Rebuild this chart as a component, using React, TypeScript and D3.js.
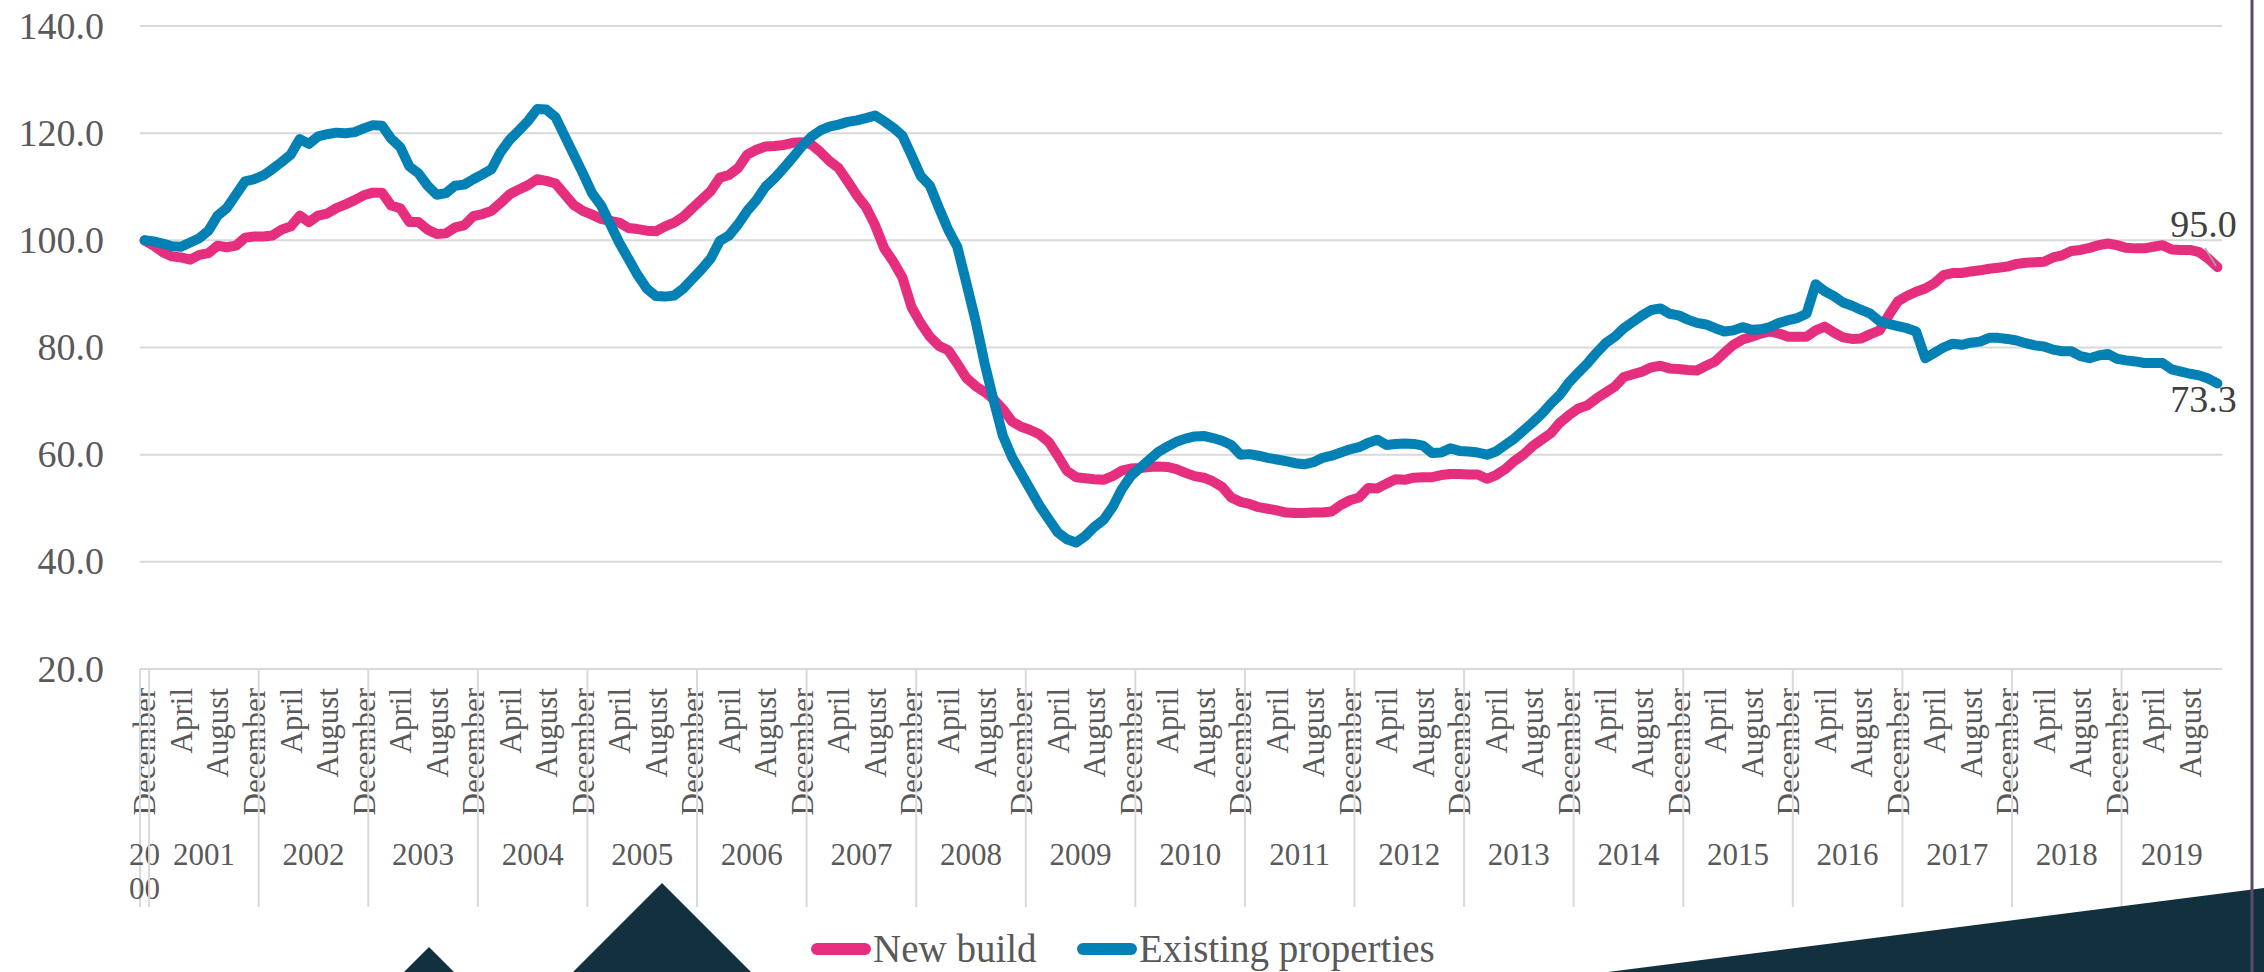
import React from 'react';
import * as d3 from 'd3';

// New build price index, monthly from December 2000 to November 2019
const newBuild = [
  100.0,
  99.0, 97.8, 97.0, 96.8, 96.4, 97.3, 97.6, 99.0, 98.7, 99.0, 100.5, 100.7,
  100.7, 100.9, 102.0, 102.6, 104.6, 103.4, 104.6, 105.0, 106.0, 106.7, 107.5, 108.4,
  108.9, 108.9, 106.5, 106.0, 103.4, 103.4, 102.0, 101.2, 101.3, 102.4, 102.8, 104.5,
  104.9, 105.5, 107.0, 108.6, 109.5, 110.3, 111.4, 111.1, 110.6, 108.6, 106.6, 105.5,
  104.8, 104.0, 103.6, 103.3, 102.3, 102.1, 101.8, 101.7, 102.6, 103.3, 104.4, 106.0,
  107.6, 109.2, 111.7, 112.2, 113.5, 116.0, 116.9, 117.5, 117.6, 117.8, 118.2, 118.3,
  117.9, 116.5, 114.8, 113.5, 111.0, 108.4, 106.2, 102.8, 98.5, 96.0, 93.0, 87.5,
  84.5, 82.0, 80.3, 79.5, 77.0, 74.3, 72.8, 71.7, 70.3, 68.5, 66.2, 65.2,
  64.6, 63.8, 62.4, 59.8, 57.0, 55.8, 55.6, 55.4, 55.3, 56.0, 57.0, 57.4,
  57.5, 57.7, 57.8, 57.7, 57.3, 56.6, 56.0, 55.7, 55.0, 54.0, 52.0, 51.2,
  50.8, 50.2, 49.9, 49.6, 49.2, 49.1, 49.1, 49.2, 49.2, 49.4, 50.6, 51.5,
  52.0, 53.8, 53.7, 54.6, 55.4, 55.3, 55.7, 55.8, 55.8, 56.2, 56.4, 56.4,
  56.3, 56.3, 55.5, 56.2, 57.3, 58.8, 60.0, 61.6, 62.8, 64.0, 66.0, 67.4,
  68.6, 69.2, 70.5, 71.6, 72.7, 74.5, 75.0, 75.5, 76.3, 76.6, 76.1, 76.0,
  75.8, 75.7, 76.6, 77.4, 79.0, 80.5, 81.5, 82.0, 82.6, 83.0, 82.6, 82.0,
  82.0, 82.0, 83.2, 83.9, 82.8, 81.9, 81.6, 81.7, 82.5, 83.2, 86.0, 88.6,
  89.6, 90.4, 91.0, 92.0, 93.5, 93.9, 93.9, 94.2, 94.4, 94.7, 94.9, 95.1,
  95.6, 95.8, 95.9, 96.0, 96.8, 97.2, 98.0, 98.2, 98.6, 99.1, 99.4, 99.1,
  98.6, 98.5, 98.5, 98.8, 99.1, 98.3, 98.2, 98.2, 97.8, 96.6, 95.0,
];

// Existing properties price index, same months
const existing = [
  100.0,
  99.8, 99.4, 98.9, 98.8, 99.6, 100.4, 101.8, 104.6, 106.0, 108.5, 111.0, 111.4,
  112.1, 113.3, 114.6, 116.0, 118.9, 118.0, 119.4, 119.8, 120.1, 120.0, 120.2, 120.9,
  121.5, 121.4, 119.0, 117.4, 113.8, 112.5, 110.2, 108.5, 108.8, 110.2, 110.4, 111.4,
  112.3, 113.3, 116.5, 118.8, 120.5, 122.3, 124.5, 124.4, 123.0, 119.5, 116.0, 112.5,
  108.8, 106.5, 103.0, 99.5, 96.5, 93.5, 91.0, 89.6, 89.5, 89.7, 91.0, 92.8,
  94.6, 96.6, 99.9, 100.9, 103.0, 105.5, 107.5, 110.0, 111.6, 113.5, 115.5, 117.6,
  119.3, 120.5, 121.2, 121.6, 122.1, 122.4, 122.8, 123.3, 122.2, 121.0, 119.5, 115.8,
  112.0, 110.2, 106.0, 102.0, 98.8, 92.0, 85.0, 77.0, 70.0, 63.5, 59.5, 56.5,
  53.5, 50.5, 48.0, 45.5, 44.2, 43.6, 44.8, 46.5, 47.8, 50.2, 53.5, 56.0,
  57.5, 59.0, 60.5, 61.5, 62.4, 63.0, 63.4, 63.5, 63.1, 62.6, 61.8, 60.0,
  60.1, 59.8, 59.4, 59.1, 58.8, 58.4, 58.2, 58.6, 59.4, 59.8, 60.4, 61.0,
  61.4, 62.2, 62.8, 61.8, 62.0, 62.1, 62.0, 61.7, 60.3, 60.4, 61.2, 60.7,
  60.6, 60.4, 60.0, 60.6, 61.8, 63.0, 64.5, 66.0, 67.6, 69.5, 71.2, 73.5,
  75.3, 77.0, 79.0, 80.8, 82.0, 83.6, 84.8, 86.0, 87.0, 87.3, 86.3, 86.0,
  85.2, 84.6, 84.3, 83.6, 83.0, 83.2, 83.8, 83.3, 83.4, 83.8, 84.6, 85.1,
  85.5, 86.3, 91.8, 90.5, 89.6, 88.4, 87.8, 87.0, 86.3, 84.9, 84.4, 84.0,
  83.6, 83.0, 78.0, 79.0, 80.0, 80.7, 80.5, 80.9, 81.1, 81.8, 81.8, 81.6,
  81.3, 80.8, 80.4, 80.2, 79.6, 79.3, 79.3, 78.4, 78.0, 78.5, 78.8, 77.9,
  77.6, 77.4, 77.1, 77.1, 77.1, 75.9, 75.5, 75.1, 74.8, 74.2, 73.3,
];

const months = d3.timeMonth.range(new Date(2000, 11, 1), new Date(2019, 11, 1));
const yTicks = [20, 40, 60, 80, 100, 120, 140];
const monthLabels = { 11: 'December', 3: 'April', 7: 'August' };
const seriesNames = ['New build', 'Existing properties'];
const colors = ['#E62E7E', '#0381B4'];

const W = 2264;
const H = 972;
const font = '"Liberation Serif", "Times New Roman", serif';

export default function App() {
  const x = d3.scaleBand<number>().domain(d3.range(months.length)).range([140, 2222]);
  const y = d3.scaleLinear().domain([20, 140]).range([669, 26]);
  const cx = (i: number) => (x(i) as number) + x.bandwidth() / 2;

  const line = d3.line<number>()
    .x((_, i) => cx(i))
    .y(d => y(d));

  const years = d3.groups(months.map((m, i) => ({ m, i })), d => d.m.getFullYear());
  const last = months.length - 1;

  return (
    <svg width={W} height={H} style={{ position: 'absolute', left: 0, top: 0, background: '#fff' }}
      fontFamily={font}>
      {/* grid */}
      {yTicks.map(t => (
        <g key={t}>
          <line x1={140} x2={2222} y1={y(t)} y2={y(t)} stroke="#d9d9d9" strokeWidth={2} />
          <text x={104} y={y(t)} dy="0.33em" textAnchor="end" fontSize={38} fill="#595959">
            {t.toFixed(1)}
          </text>
        </g>
      ))}

      {/* month labels */}
      {months.map((m, i) => monthLabels[m.getMonth()] && (i % 4 === 0) ? (
        <text key={i} transform={`translate(${cx(i)},688) rotate(-90)`} dy="0.35em"
          textAnchor="end" fontSize={31} fill="#595959">{monthLabels[m.getMonth()]}</text>
      ) : null)}

      {/* year group separators and labels */}
      <line x1={140} x2={140} y1={669} y2={907} stroke="#d9d9d9" strokeWidth={2} />
      {years.map(([yr, arr]) => {
        const x0 = x(arr[0].i) as number;
        const x1 = (x(arr[arr.length - 1].i) as number) + x.bandwidth();
        const mid = (x0 + x1) / 2;
        const label = String(yr);
        return (
          <g key={yr}>
            {arr.length > 1 && <line x1={x0} x2={x0} y1={669} y2={907} stroke="#d9d9d9" strokeWidth={2} />}
            {arr.length < 3 ? (
              <text x={mid} y={865} textAnchor="middle" fontSize={31} fill="#595959">
                <tspan x={mid}>{label.slice(0, 2)}</tspan>
                <tspan x={mid} dy={34}>{label.slice(2)}</tspan>
              </text>
            ) : (
              <text x={mid} y={865} textAnchor="middle" fontSize={31} fill="#595959">{label}</text>
            )}
          </g>
        );
      })}

      {/* series */}
      {[newBuild, existing].map((s, k) => (
        <path key={k} d={line(s) as string} fill="none" stroke={colors[k]} strokeWidth={10}
          strokeLinejoin="round" strokeLinecap="round" />
      ))}

      {/* end labels */}
      <line x1={2205} y1={248} x2={2216} y2={266} stroke="#a6a6a6" strokeWidth={1.5} />
      <text x={cx(last) - 14} y={y(newBuild[last]) - 30} textAnchor="middle" fontSize={38} fill="#404040">
        {newBuild[last].toFixed(1)}
      </text>
      <text x={cx(last) - 14} y={y(existing[last]) + 29} textAnchor="middle" fontSize={38} fill="#404040">
        {existing[last].toFixed(1)}
      </text>

      {/* decorations */}
      <polygon points="429,947 479,997 379,997" fill="#13303F" />
      <polygon points="662,883 762,983 562,983" fill="#13303F" />
      <polygon points="1608,972 2264,888 2264,972" fill="#13303F" />
      <line x1={2252} x2={2252} y1={0} y2={H} stroke="#5b4a6b" strokeWidth={3} />

      {/* legend */}
      {seriesNames.map((n, k) => {
        const lx = [811, 1077][k];
        return (
          <g key={n}>
            <line x1={lx + 6} x2={lx + 54} y1={949} y2={949} stroke={colors[k]} strokeWidth={12}
              strokeLinecap="round" />
            <text x={lx + 62} y={962} fontSize={39} fill="#595959">{n}</text>
          </g>
        );
      })}
    </svg>
  );
}
